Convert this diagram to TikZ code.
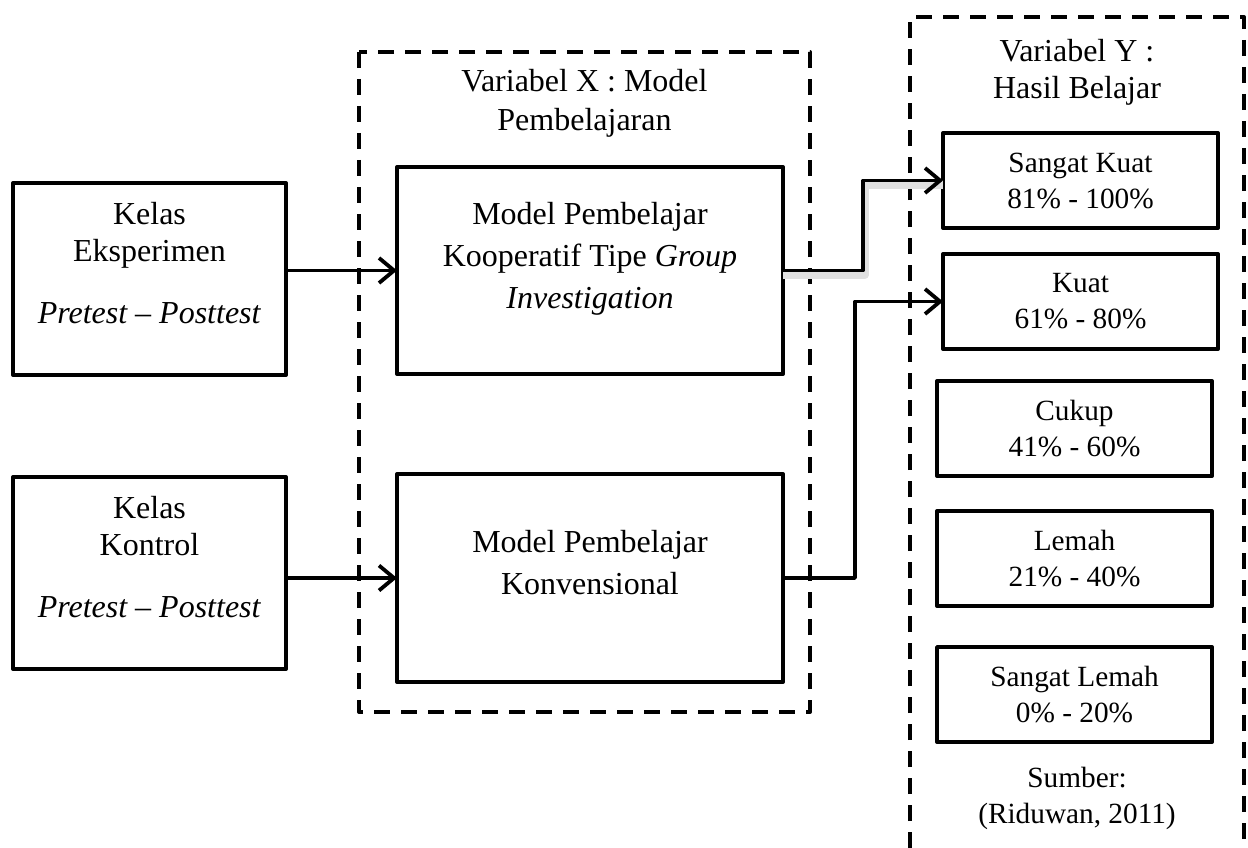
\documentclass[tikz,border=0pt]{standalone}
\usepackage{fontspec}
\setmainfont{Liberation Serif}
\usetikzlibrary{arrows.meta}
\begin{document}
\begin{tikzpicture}[x=1pt,y=-1pt,
  framebox/.style={draw, line width=3.9pt, line join=round, inner sep=0pt, outer sep=0pt},
  leftbox/.style={framebox, minimum width=273pt, minimum height=192pt},
  midbox/.style={framebox, minimum width=386pt, minimum height=207pt},
  catbox/.style={framebox, minimum width=275pt, minimum height=95pt,
    font=\fontsize{29.3}{36}\selectfont, align=center},
  dashframe/.style={draw, line width=3.9pt, dash pattern=on 16pt off 11pt, line join=round},
  txt/.style={inner sep=0pt, align=center, anchor=base},
  conn/.style={line width=3.8pt, line join=round,
    -{Straight Barb[length=15pt, width=25pt, line width=3.8pt]}},
  shade/.style={line width=8pt, black!12, line join=round}
]
\useasboundingbox (0,0) rectangle (1248,848);

% dashed groups
\draw[dashframe] (359,52) rectangle (810,712);
\draw[dashframe] (910,848) -- (910,17) -- (1244,17) -- (1244,848);

% left boxes (text anchored at the baseline of its last line)
\node[leftbox] (eks) at (149.5,279) {};
\node[txt, font=\fontsize{32}{37}\selectfont] (eks-t) at (149.5,323)
  {Kelas\\Eksperimen\\[25pt]\textit{Pretest -- Posttest}};
\node[leftbox] (kon) at (149.5,573) {};
\node[txt, font=\fontsize{32}{37}\selectfont] (kon-t) at (149.5,617)
  {Kelas\\Kontrol\\[25pt]\textit{Pretest -- Posttest}};

% middle group
\node[txt, font=\fontsize{32}{39}\selectfont] (varx) at (584.5,131)
  {Variabel X : Model\\Pembelajaran};
\node[midbox] (gi) at (590,270.5) {};
\node[txt, font=\fontsize{32}{42}\selectfont] (gi-t) at (590,308)
  {Model Pembelajar\\Kooperatif Tipe \textit{Group}\\\textit{Investigation}};
\node[midbox, minimum height=208pt] (konv) at (590,578) {};
\node[txt, font=\fontsize{32}{42}\selectfont] (konv-t) at (590,594)
  {Model Pembelajar\\Konvensional};

% right group
\node[txt, font=\fontsize{32}{37}\selectfont] (vary) at (1077,99)
  {Variabel Y :\\Hasil Belajar};
\node[catbox] (sk) at (1080.5,180.5) {Sangat Kuat\\81\% - 100\%};
\node[catbox] (kuat) at (1080.5,301.5) {Kuat\\61\% - 80\%};
\node[catbox] (cukup) at (1074.5,428.5) {Cukup\\41\% - 60\%};
\node[catbox] (lemah) at (1074.5,558.5) {Lemah\\21\% - 40\%};
\node[catbox] (slemah) at (1074.5,694.5) {Sangat Lemah\\0\% - 20\%};
\node[txt, font=\fontsize{29.3}{36}\selectfont] (src) at (1077,823)
  {Sumber:\\(Riduwan, 2011)};

% connectors
\draw[conn] (eks.east |- gi.west) -- (gi.west);
\draw[conn] (kon.east |- konv.west) -- (konv.west);
\draw[shade] ([yshift=-4pt]gi.east) -- ++(82,0) |- ([yshift=-4pt]sk.west);
\draw[conn] (gi.east) -- ++(80,0) |- (sk.west);
\draw[conn] (konv.east) -- ++(72,0) |- (kuat.west);
\end{tikzpicture}
\end{document}
